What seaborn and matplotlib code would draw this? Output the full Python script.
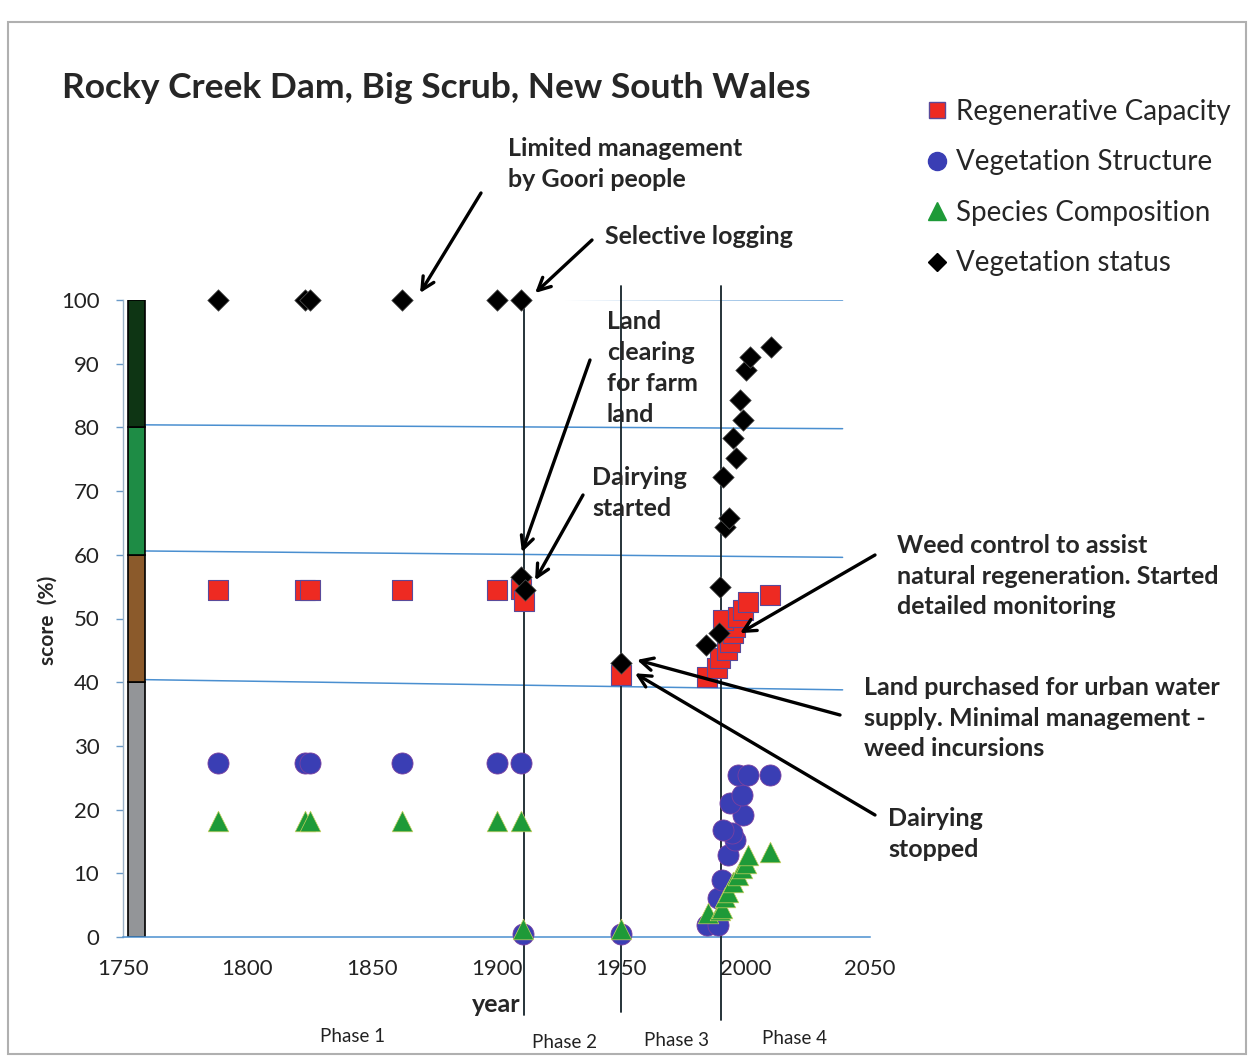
import matplotlib
matplotlib.use("Agg")
import matplotlib.pyplot as plt
from matplotlib.lines import Line2D
from matplotlib.patches import Rectangle
import seaborn as sns
import pandas as pd

# ---------------- data ----------------
regen_year = [1788, 1823, 1825, 1862, 1900, 1910, 1911, 1950,
              1984.5, 1988.6, 1989.8, 1992.6, 1993.8, 1995, 1995.8, 1991, 1997, 1999, 2001, 2010]
regen_val = [54.5, 54.5, 54.5, 54.5, 54.5, 54.7, 52.8, 41.1,
             40.8, 42.2, 43.8, 45.0, 46.3, 47.7, 48.7, 49.8, 50.2, 51.3, 52.6, 53.7]

struct_year = [1788, 1823, 1825, 1862, 1900, 1910, 1910.5, 1950,
               1984.5, 1989, 1989, 1990.5, 1993, 1995.8, 1994.6, 1991, 1999, 1993.8, 1998.7, 1997, 2001, 2010]
struct_val = [27.3, 27.3, 27.3, 27.3, 27.3, 27.3, 0.4, 0.4,
              1.9, 1.9, 6.1, 8.9, 12.9, 15.2, 16.3, 16.8, 19.2, 21.0, 22.3, 25.4, 25.4, 25.4]

species_year = [1788, 1823, 1825, 1862, 1900, 1910, 1910.5, 1950,
                1985, 1989.8, 1990.4, 1991.8, 1993, 1995, 1997, 1998.7, 2000, 2001, 2010]
species_val = [18.2, 18.2, 18.2, 18.2, 18.2, 18.2, 1.3, 1.3,
               3.8, 4.2, 4.6, 6.3, 7.1, 8.6, 9.7, 10.8, 11.6, 12.9, 13.3]

status_year = [1788, 1823, 1825, 1862, 1900, 1910, 1910, 1911.5, 1950,
               1984.1, 1989.4, 1989.8, 1991.8, 1993.4, 1991, 1996, 1994.9, 1999, 1997.8, 2000.2, 2001.8, 2010.2]
status_val = [100, 100, 100, 100, 100, 100, 56.5, 54.5, 43.0,
              45.8, 47.7, 54.9, 64.4, 65.8, 72.2, 75.2, 78.3, 81.2, 84.3, 89.0, 91.0, 92.6]

series_names = ["Regenerative Capacity", "Vegetation Structure",
                "Species Composition", "Vegetation status"]

band_bottom = [0, 40, 60, 80]
band_height = [40, 20, 20, 20]
band_colors = ["#939598", "#8B5A2B", "#1E8C45", "#0E3514"]

threshold_levels = [100, 80, 60, 40]
phase_years = [1911, 1950, 1990]
x_ticks = [1750, 1800, 1850, 1900, 1950, 2000, 2050]
y_ticks = [0, 10, 20, 30, 40, 50, 60, 70, 80, 90, 100]

frames = []
for name, yrs, vals in zip(series_names,
                           [regen_year, struct_year, species_year, status_year],
                           [regen_val, struct_val, species_val, status_val]):
    frames.append(pd.DataFrame({"year": yrs, "score": vals, "series": name}))
df = pd.concat(frames, ignore_index=True)

# ---------------- style ----------------
sns.set_style("white")
plt.rcParams["font.family"] = ["Lato", "DejaVu Sans"]

W, H = 1252, 1056
fig = plt.figure(figsize=(W / 100, H / 100), dpi=100)


def fx(px):
    return px / W


def fy(py):
    return 1 - py / H


ax = fig.add_axes([fx(123), fy(937), (870 - 123) / W, (937 - 300) / H])
ax.set_xlim(1750, 2050)
ax.set_ylim(0, 100)

# outer frame
fig.add_artist(Rectangle((fx(8), fy(1054)), fx(1246) - fx(8), fy(22) - fy(1054),
                         transform=fig.transFigure, fill=False, edgecolor="#B0B0B0", lw=1.5))

# colour band bar
ax.bar([1755.5] * 4, band_height, bottom=band_bottom, width=7, color=band_colors,
       edgecolor="black", linewidth=1.2, zorder=2)

# threshold lines (slightly tilted as drawn in reference)
tilt = {100: (100.3, 100.0), 80: (80.4, 79.8), 60: (60.6, 59.6), 40: (40.4, 38.8)}
for lvl in threshold_levels:
    y0, y1 = tilt[lvl]
    ax.plot([1759, 2039], [y0, y1], color="#4A8FD0", lw=1.1, zorder=1)

# phase lines
phase_extent = {1911: (-0.122, 1.0), 1950: (-0.118, 1.022), 1990: (-0.13, 1.022)}
for yr in phase_years:
    lo, hi = phase_extent[yr]
    ax.axvline(yr, ymin=lo, ymax=hi, color="#15232a", lw=1.3, clip_on=False, zorder=3)

# scatter series
styles = {
    "Regenerative Capacity": dict(marker="s", s=200, color="#EE2A22", edgecolor="#5A4A9A", linewidth=0.8),
    "Vegetation Structure": dict(marker="o", s=230, color="#3A3EB4", edgecolor="#7A40A0", linewidth=0.6),
    "Species Composition": dict(marker="^", s=220, color="#1E9A38", edgecolor="#C8D060", linewidth=0.5),
    "Vegetation status": dict(marker="D", s=120, color="black", edgecolor="#555555", linewidth=0.5),
}
for i, name in enumerate(series_names):
    sub = df[df["series"] == name]
    st = styles[name]
    sns.scatterplot(data=sub, x="year", y="score", ax=ax, marker=st["marker"], s=st["s"],
                    color=st["color"], edgecolor=st["edgecolor"], linewidth=st["linewidth"],
                    legend=False, zorder=4 + i, clip_on=False)

# axes styling
for side in ["top", "right"]:
    ax.spines[side].set_visible(False)
ax.spines["left"].set_color("#9DB3C8")
ax.spines["left"].set_linewidth(1.0)
ax.spines["bottom"].set_color("#4A8FD0")
ax.spines["bottom"].set_linewidth(1.1)
ax.set_xticks(x_ticks)
ax.set_yticks(y_ticks)
ax.tick_params(axis="x", length=0, pad=16, labelsize=16, labelcolor="#222222")
ax.tick_params(axis="y", length=5, width=1, color="#6A9AC8", pad=12, labelsize=16,
               labelcolor="#222222", left=True)
ax.set_xlabel("")
ax.set_ylabel("")

# labels
fig.text(fx(496), fy(1005), "year", ha="center", va="center", fontsize=18, fontweight="bold")
fig.text(fx(48), fy(620), "score  (%)", ha="center", va="center", rotation=90,
         fontsize=15, fontweight="bold")
fig.text(fx(62), fy(88), "Rocky Creek Dam, Big Scrub, New South Wales", ha="left", va="center",
         fontsize=25.5, fontweight="bold")

for txt, x, y in [("Phase 1", 353, 1037), ("Phase 2", 565, 1042),
                  ("Phase 3", 676, 1040), ("Phase 4", 794, 1038)]:
    fig.text(fx(x), fy(y), txt, ha="center", va="center", fontsize=13.5, color="#222222")

# annotations
ann_fs = 18
notes = [
    ("Limited management\nby Goori people", 508, 164, (1869.3, 101.1), (481, 193)),
    ("Selective logging", 605, 237, (1915.5, 101.1), (592, 240)),
    ("Land\nclearing\nfor farm\nland", 607, 368, (1910.2, 60.4), (590, 360)),
    ("Dairying\nstarted", 592, 493, (1915.5, 56.0), (583, 495)),
    ("Weed control to assist\nnatural regeneration. Started\ndetailed monitoring", 897, 576,
     (1997.8, 47.7), (875, 555)),
    ("Land purchased for urban water\nsupply. Minimal management -\nweed incursions", 864, 718,
     (1956.4, 43.5), (840, 715)),
    ("Dairying\nstopped", 888, 834, (1955.6, 41.4), (875, 815)),
]
for txt, tx, ty, tip, start in notes:
    fig.text(fx(tx), fy(ty), txt, ha="left", va="center", fontsize=ann_fs, fontweight="bold",
             linespacing=1.42)
    ax.annotate("", xy=tip, xycoords="data", xytext=(fx(start[0]), fy(start[1])),
                textcoords="figure fraction",
                arrowprops=dict(arrowstyle="->,head_length=0.9,head_width=0.45", lw=2.4,
                                color="black", shrinkA=0, shrinkB=0),
                annotation_clip=False, zorder=10)

# legend
handles = [
    Line2D([], [], ls="", marker="s", markersize=12, markerfacecolor="#EE2A22", markeredgecolor="#5A4A9A"),
    Line2D([], [], ls="", marker="o", markersize=13, markerfacecolor="#3A3EB4", markeredgecolor="#3A3EB4"),
    Line2D([], [], ls="", marker="^", markersize=13, markerfacecolor="#1E9A38", markeredgecolor="#1E9A38"),
    Line2D([], [], ls="", marker="D", markersize=9, markerfacecolor="black", markeredgecolor="black"),
]
fig.legend(handles, series_names, loc="upper left", bbox_to_anchor=(fx(927), fy(99)),
           frameon=False, fontsize=20, handlelength=0.7, handletextpad=0.35,
           labelspacing=0.88, borderaxespad=0, borderpad=0)

fig.savefig("out.png", dpi=100, facecolor="white")
